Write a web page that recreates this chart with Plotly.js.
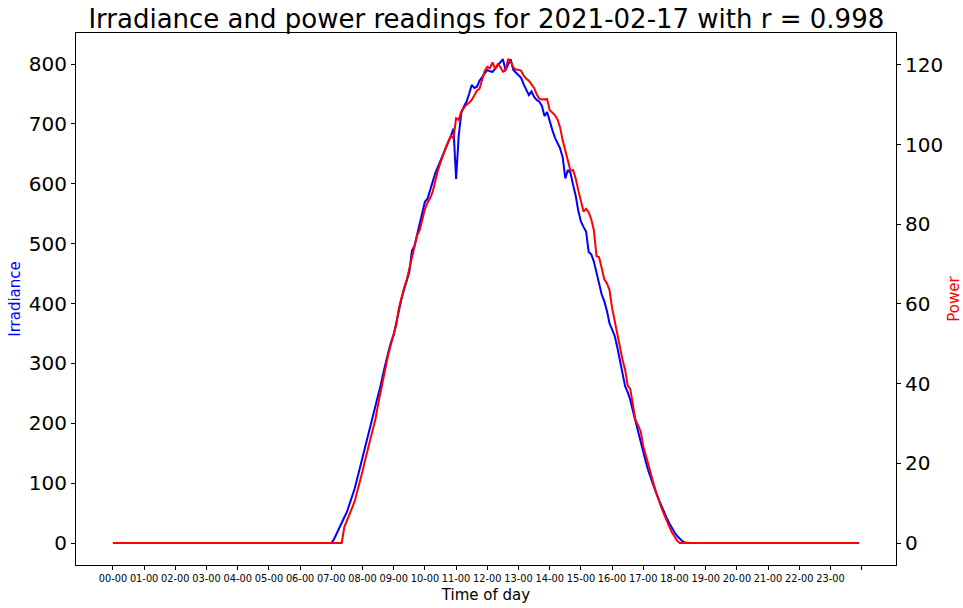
<!DOCTYPE html>
<html>
<head>
<meta charset="utf-8">
<script src="https://cdn.plot.ly/plotly-3.0.1.min.js"></script>
<style>html,body{margin:0;padding:0;background:#fff;}#chart{width:963px;height:608px;}</style>
</head>
<body>
<div id="chart"></div>
<script>
// 5-minute readings, 288 per day (one row = one hour)
const irradiance = [
0,0,0,0,0,0,0,0,0,0,0,0,
0,0,0,0,0,0,0,0,0,0,0,0,
0,0,0,0,0,0,0,0,0,0,0,0,
0,0,0,0,0,0,0,0,0,0,0,0,
0,0,0,0,0,0,0,0,0,0,0,0,
0,0,0,0,0,0,0,0,0,0,0,0,
0,0,0,0,0,0,0,0,0,0,0,0,
0,6,16,24,33,43,52,64,78,91,108,125,
142,160,177,195,212,228,245,264,284,304,320,336,
348,368,390,408,424,440,452,488,496,515,532,549,
570,575,590,606,618,628,638,648,658,668,680,692,
608,680,718,729,737,750,765,760,762,772,778,786,
790,788,787,792,798,803,808,790,800,808,790,786,
781,777,766,756,748,754,745,740,737,730,713,720,
704,690,677,667,659,644,609,623,618,598,580,555,
537,528,520,486,482,470,452,435,415,404,388,367,
356,346,327,306,285,262,252,239,221,203,186,169,
151,135,120,107,95,83,72,61,51,42,33,25,
18,12,7,3,1,0,0,0,0,0,0,0,
0,0,0,0,0,0,0,0,0,0,0,0,
0,0,0,0,0,0,0,0,0,0,0,0,
0,0,0,0,0,0,0,0,0,0,0,0,
0,0,0,0,0,0,0,0,0,0,0,0,
0,0,0,0,0,0,0,0,0,0,0,0
];
const power = [
0,0,0,0,0,0,0,0,0,0,0,0,
0,0,0,0,0,0,0,0,0,0,0,0,
0,0,0,0,0,0,0,0,0,0,0,0,
0,0,0,0,0,0,0,0,0,0,0,0,
0,0,0,0,0,0,0,0,0,0,0,0,
0,0,0,0,0,0,0,0,0,0,0,0,
0,0,0,0,0,0,0,0,0,0,0,0,
0,0,0,0,0,4,5.5,7,8.8,10.5,12.8,15.5,
18,20.8,23.4,26,28.6,31.2,34.8,38,41.5,44.5,47.6,50,
52.3,54.8,59,61.8,64,66,69,72,75,77.2,78.5,81.6,
83.8,85.4,86.5,88.2,91,93.5,95.5,97.5,99.2,100.8,102.2,101.6,
106.6,106.2,108.3,109.2,110,110.5,111.2,112.3,113.5,114,116.5,118.5,
119.5,119.2,120.6,119,120.2,119.5,118.3,118.6,121.5,120.8,119.3,118.8,
118.8,118.5,117.3,116.5,116,115.2,114.2,112.6,111.5,111.3,111.3,111.4,
108.6,108,107.4,106.3,104.3,101,98.4,95.5,93.4,93.6,91.5,88.5,
85.5,83.2,83.9,83,81.2,78.5,72,71.7,69,66.2,65.2,63.5,
59,55.5,52.3,49.5,46,43.5,39.5,38.6,34.5,30.8,29.5,28,
24.3,21.8,19.2,16.8,14.8,12.6,10.5,8.8,7.2,5.5,4.1,2.7,
1.6,0.6,0,0,0,0,0,0,0,0,0,0,
0,0,0,0,0,0,0,0,0,0,0,0,
0,0,0,0,0,0,0,0,0,0,0,0,
0,0,0,0,0,0,0,0,0,0,0,0,
0,0,0,0,0,0,0,0,0,0,0,0,
0,0,0,0,0,0,0,0,0,0,0,0
];
const hourLabels = ['00-00','01-00','02-00','03-00','04-00','05-00','06-00','07-00','08-00','09-00','10-00','11-00',
  '12-00','13-00','14-00','15-00','16-00','17-00','18-00','19-00','20-00','21-00','22-00','23-00',''];
const samplesPerHour = 12;

const xIdx = irradiance.map((_, i) => i);
const tickVals = hourLabels.map((_, h) => h * samplesPerHour);

const font = 'DejaVu Sans, sans-serif';
const traces = [
  {x: xIdx, y: irradiance, type: 'scatter', mode: 'lines', line: {color: '#0000ff', width: 2}, yaxis: 'y', hoverinfo: 'skip'},
  {x: xIdx, y: power, type: 'scatter', mode: 'lines', line: {color: '#ff0000', width: 2}, yaxis: 'y2', hoverinfo: 'skip'}
];
const layout = {
  width: 963, height: 608,
  margin: {l: 76, r: 67, t: 33, b: 43, pad: 0},
  paper_bgcolor: '#fff', plot_bgcolor: '#fff',
  showlegend: false,
  font: {family: font, color: '#000'},
  title: {text: 'Irradiance and power readings for 2021-02-17 with r = 0.998', font: {family: font, size: 26, color: '#000'},
          x: 0.505, xanchor: 'center', y: 0.969, yanchor: 'middle', yref: 'container'},
  xaxis: {
    range: [-14.2, 301.2], tickmode: 'array', tickvals: tickVals, ticktext: hourLabels,
    tickangle: 0, tickfont: {size: 9.8, family: font, color: '#000'},
    ticks: 'outside', ticklen: 4, tickwidth: 1, tickcolor: '#000',
    showgrid: false, zeroline: false, showline: true, linecolor: '#000', linewidth: 1, mirror: true,
    title: {text: 'Time of day', font: {size: 15, family: font, color: '#000'}, standoff: 6}
  },
  yaxis: {
    range: [-36.7, 851.8], tickvals: [0,100,200,300,400,500,600,700,800],
    tickfont: {size: 20, family: font, color: '#000'},
    ticks: 'outside', ticklen: 4, tickwidth: 1, tickcolor: '#000',
    showgrid: false, zeroline: false, showline: true, linecolor: '#000', linewidth: 1,
    title: {text: 'Irradiance', font: {size: 15, family: font, color: '#0000ff'}, standoff: 4}
  },
  yaxis2: {
    overlaying: 'y', side: 'right', range: [-5.52, 128.0], tickvals: [0,20,40,60,80,100,120],
    tickfont: {size: 20, family: font, color: '#000'},
    ticks: 'outside', ticklen: 4, tickwidth: 1, tickcolor: '#000',
    showgrid: false, zeroline: false, showline: true, linecolor: '#000', linewidth: 1,
    title: {text: 'Power', font: {size: 15, family: font, color: '#ff0000'}, standoff: 8}
  }
};
Plotly.newPlot('chart', traces, layout, {displayModeBar: false, staticPlot: true});
</script>
</body>
</html>
